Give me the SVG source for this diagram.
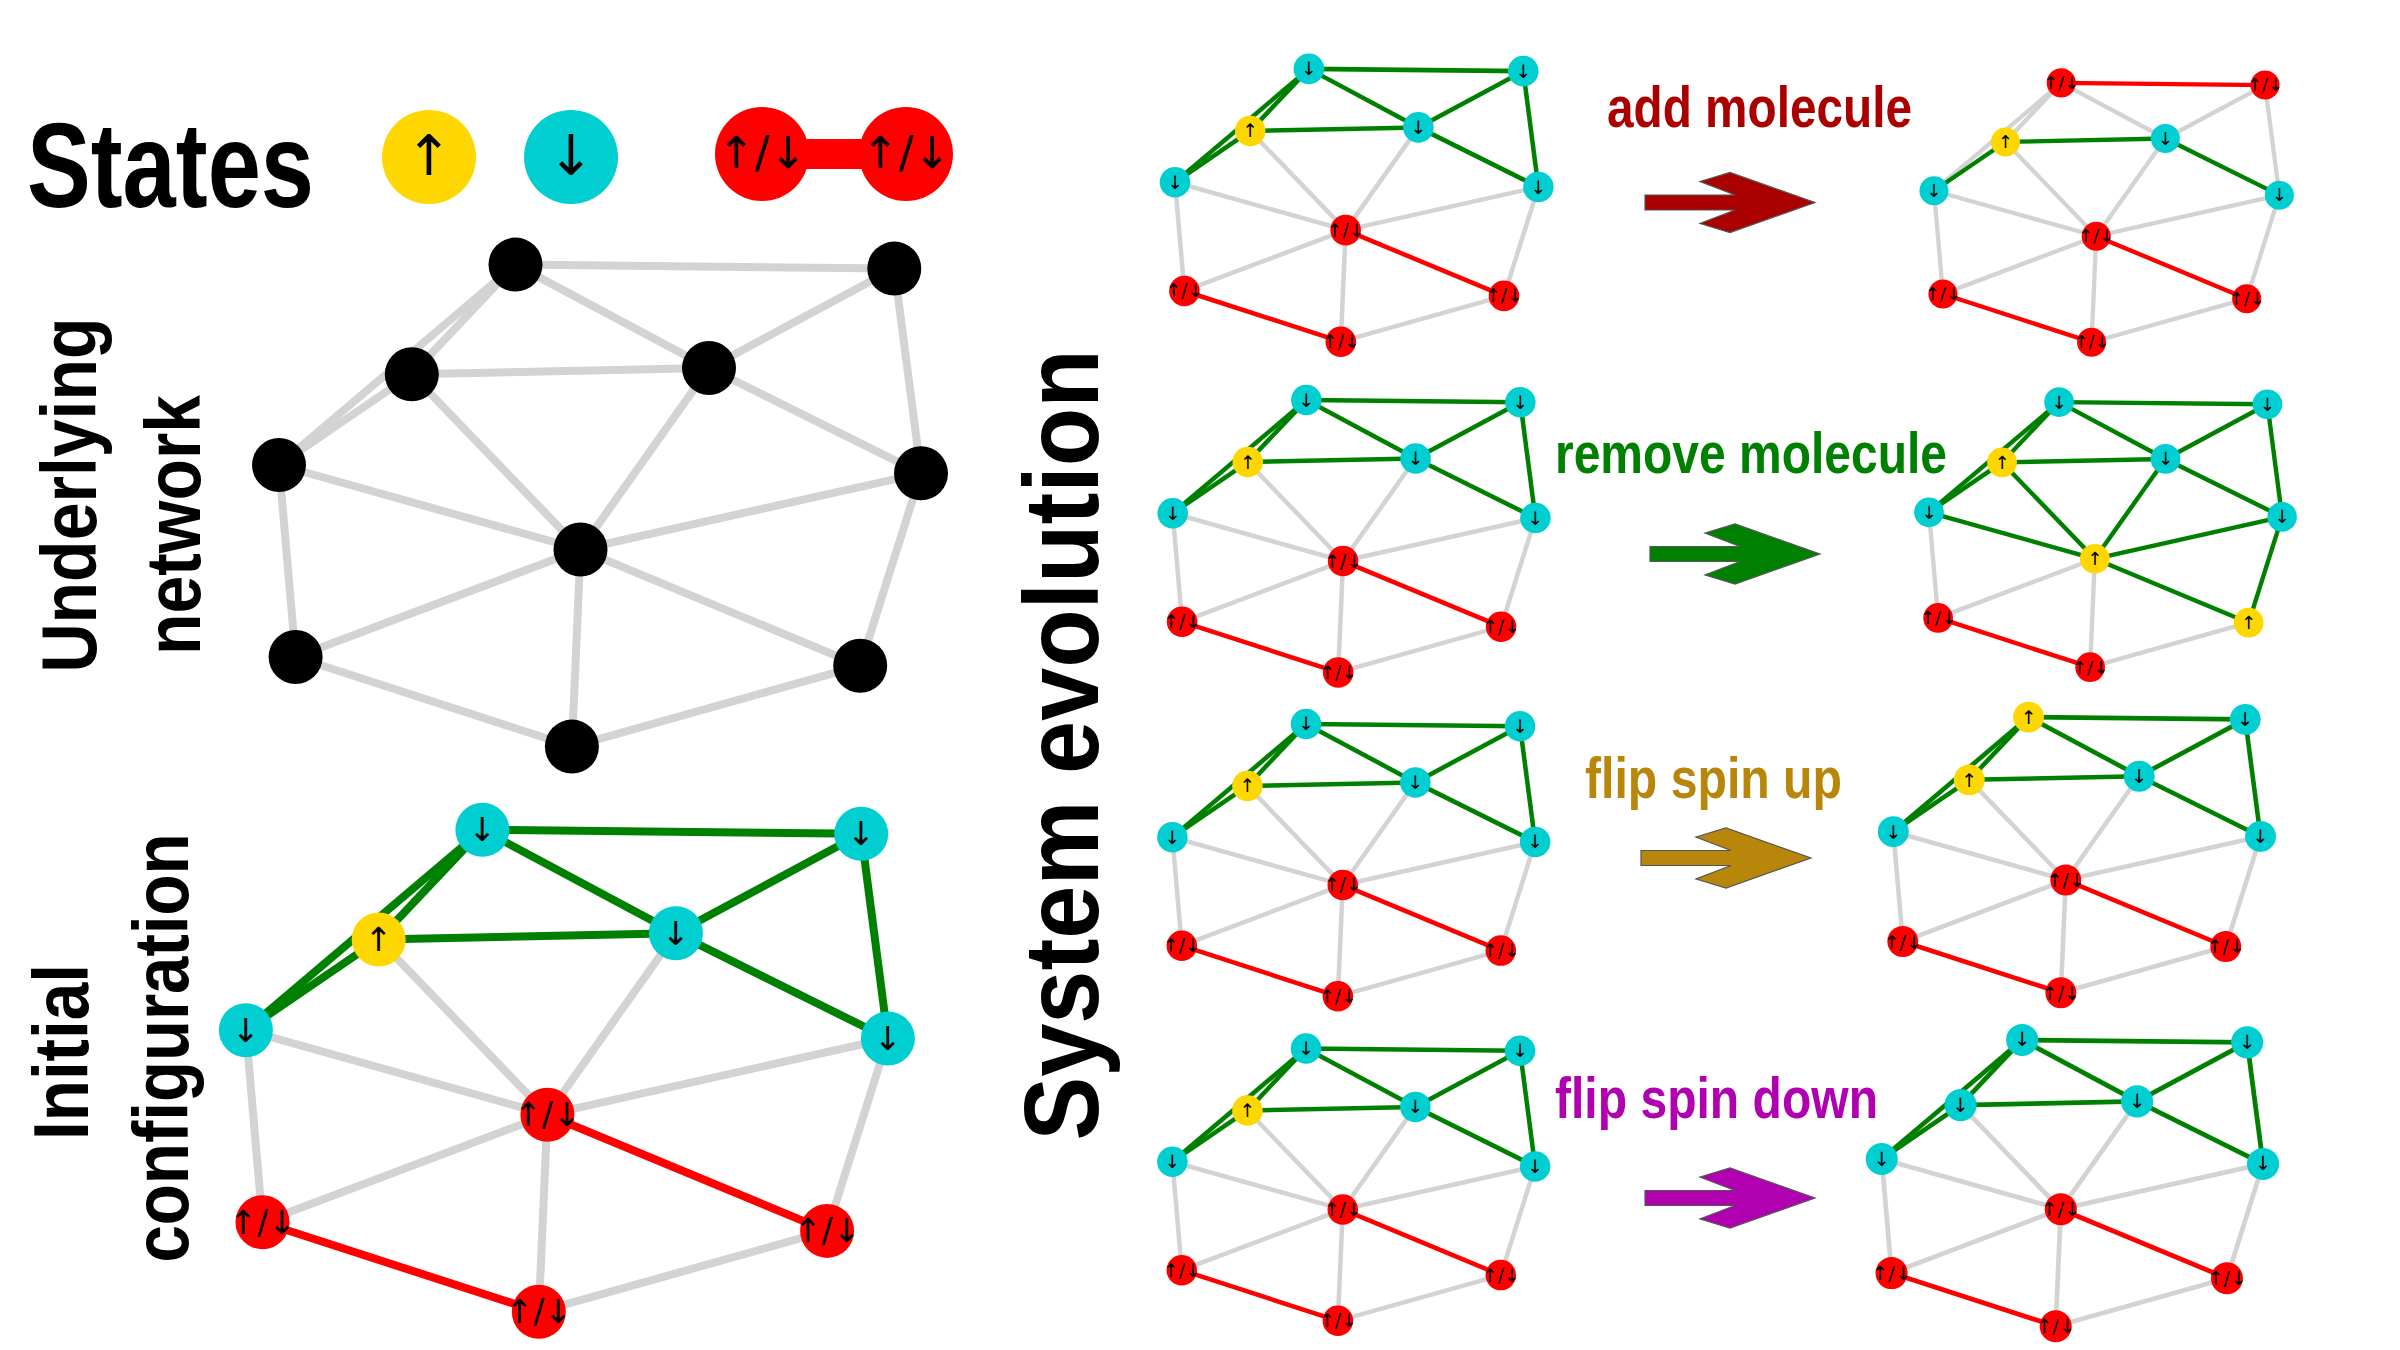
<svg xmlns="http://www.w3.org/2000/svg" width="2400" height="1350" viewBox="0 0 2400 1350">
<style>
.gr{stroke:#d3d3d3;stroke-width:8;fill:none}
.gn{stroke:#008000;stroke-width:8;fill:none}
.rd-e{stroke:#ff0000;stroke-width:8;fill:none}
.cy{fill:#00ced1}
.yl{fill:#ffd700}
.rd{fill:#ff0000}
.bk{fill:#000000}
.t{font-family:"DejaVu Sans",sans-serif;font-size:33px;text-anchor:middle;dominant-baseline:central;fill:#000}
.lab{font-family:"Liberation Sans",Arial,sans-serif;font-weight:bold}
.arr{stroke:#555;stroke-width:1.2}
</style>
<rect width="2400" height="1350" fill="#ffffff"/>

<!-- Legend -->
<g id="legend">
<text class="lab" x="27" y="207" font-size="120" textLength="287" lengthAdjust="spacingAndGlyphs">States</text>
<g id="legend-up"><circle cx="429" cy="157" r="47" class="yl"/><text x="429" y="155" class="t" style="font-size:56px">↑</text></g>
<g id="legend-down"><circle cx="571" cy="157" r="47" class="cy"/><text x="571" y="155" class="t" style="font-size:56px">↓</text></g>
<g id="legend-pair">
<rect x="762" y="139" width="144" height="30" class="rd"/>
<circle cx="762" cy="154" r="47" class="rd"/>
<circle cx="906" cy="154" r="47" class="rd"/>
<text x="762" y="152" class="t" style="font-size:44px">↑/↓</text>
<text x="906" y="152" class="t" style="font-size:44px">↑/↓</text>
</g>
</g>

<!-- Side labels -->
<text class="lab" font-size="78" text-anchor="middle" textLength="355" lengthAdjust="spacingAndGlyphs" transform="translate(96,495) rotate(-90)">Underlying</text>
<text class="lab" font-size="78" text-anchor="middle" textLength="260" lengthAdjust="spacingAndGlyphs" transform="translate(200,525) rotate(-90)">network</text>
<text class="lab" font-size="78" text-anchor="middle" textLength="176" lengthAdjust="spacingAndGlyphs" transform="translate(88,1052) rotate(-90)">Initial</text>
<text class="lab" font-size="78" text-anchor="middle" textLength="429" lengthAdjust="spacingAndGlyphs" transform="translate(188,1048) rotate(-90)">configuration</text>
<text class="lab" font-size="106" text-anchor="middle" textLength="791" lengthAdjust="spacingAndGlyphs" transform="translate(1098,745) rotate(-90)">System evolution</text>

<!-- Action labels and arrows -->
<g id="act-add">
<text class="lab" x="1607" y="127" font-size="58" fill="#aa0000" textLength="305" lengthAdjust="spacingAndGlyphs">add molecule</text>
<path class="arr" fill="#aa0000" d="M1645,195 H1735 L1700,181.5 L1730,172.5 L1815,202.5 L1730,232.5 L1700,223.5 L1735,210 H1645 Z"/>
</g>
<g id="act-remove">
<text class="lab" font-size="48" fill="#008000" transform="translate(1555,473) scale(1,1.2)">remove molecule</text>
<path class="arr" fill="#008000" d="M1650,546.5 H1740 L1705,533 L1735,524 L1820,554 L1735,584 L1705,575 L1740,561.5 H1650 Z"/>
</g>
<g id="act-flipup">
<text class="lab" x="1585" y="798" font-size="58" fill="#b8860b" textLength="257" lengthAdjust="spacingAndGlyphs">flip spin up</text>
<path class="arr" fill="#b8860b" d="M1641,850.5 H1731 L1696,837 L1726,828 L1811,858 L1726,888 L1696,879 L1731,865.5 H1641 Z"/>
</g>
<g id="act-flipdown">
<text class="lab" x="1555" y="1118" font-size="58" fill="#b000b0" textLength="323" lengthAdjust="spacingAndGlyphs">flip spin down</text>
<path class="arr" fill="#b000b0" d="M1645,1190.5 H1735 L1700,1177 L1730,1168 L1815,1198 L1730,1228 L1700,1219 L1735,1205.5 H1645 Z"/>
</g>

<!-- Underlying network -->
<g id="underlying" transform="translate(279,465)">
<g id="underlying-connectors">
<line class="gr" x1="236.5" y1="-200.4" x2="615.3" y2="-196.4"/>
<line class="gr" x1="236.5" y1="-200.4" x2="430" y2="-97"/>
<line class="gr" x1="236.5" y1="-200.4" x2="132.8" y2="-90.7"/>
<line class="gr" x1="236.5" y1="-200.4" x2="0" y2="0"/>
<line class="gr" x1="132.8" y1="-90.7" x2="0" y2="0"/>
<line class="gr" x1="132.8" y1="-90.7" x2="430" y2="-97"/>
<line class="gr" x1="615.3" y1="-196.4" x2="430" y2="-97"/>
<line class="gr" x1="430" y1="-97" x2="642" y2="8.3"/>
<line class="gr" x1="615.3" y1="-196.4" x2="642" y2="8.3"/>
<line class="gr" x1="132.8" y1="-90.7" x2="301.5" y2="84.5"/>
<line class="gr" x1="430" y1="-97" x2="301.5" y2="84.5"/>
<line class="gr" x1="0" y1="0" x2="301.5" y2="84.5"/>
<line class="gr" x1="642" y1="8.3" x2="301.5" y2="84.5"/>
<line class="gr" x1="0" y1="0" x2="16.6" y2="192"/>
<line class="gr" x1="642" y1="8.3" x2="581.2" y2="200.7"/>
<line class="gr" x1="301.5" y1="84.5" x2="16.6" y2="192"/>
<line class="gr" x1="301.5" y1="84.5" x2="292.9" y2="281.6"/>
<line class="gr" x1="301.5" y1="84.5" x2="581.2" y2="200.7"/>
<line class="gr" x1="16.6" y1="192" x2="292.9" y2="281.6"/>
<line class="gr" x1="581.2" y1="200.7" x2="292.9" y2="281.6"/>
</g>
<g id="u-A"><circle class="bk" cx="236.5" cy="-200.4" r="27"/></g>
<g id="u-B"><circle class="bk" cx="615.3" cy="-196.4" r="27"/></g>
<g id="u-C"><circle class="bk" cx="132.8" cy="-90.7" r="27"/></g>
<g id="u-D"><circle class="bk" cx="430" cy="-97" r="27"/></g>
<g id="u-E"><circle class="bk" cx="0" cy="0" r="27"/></g>
<g id="u-F"><circle class="bk" cx="642" cy="8.3" r="27"/></g>
<g id="u-G"><circle class="bk" cx="301.5" cy="84.5" r="27"/></g>
<g id="u-H"><circle class="bk" cx="16.6" cy="192" r="27"/></g>
<g id="u-I"><circle class="bk" cx="581.2" cy="200.7" r="27"/></g>
<g id="u-J"><circle class="bk" cx="292.9" cy="281.6" r="27"/></g>
</g>

<!-- Initial configuration -->
<g id="init" transform="translate(245.9,1030.2)">
<g id="init-connectors">
<line class="gn" x1="236.5" y1="-200.4" x2="615.3" y2="-196.4"/>
<line class="gn" x1="236.5" y1="-200.4" x2="430" y2="-97"/>
<line class="gn" x1="236.5" y1="-200.4" x2="132.8" y2="-90.7"/>
<line class="gn" x1="236.5" y1="-200.4" x2="0" y2="0"/>
<line class="gn" x1="132.8" y1="-90.7" x2="0" y2="0"/>
<line class="gn" x1="132.8" y1="-90.7" x2="430" y2="-97"/>
<line class="gn" x1="615.3" y1="-196.4" x2="430" y2="-97"/>
<line class="gn" x1="430" y1="-97" x2="642" y2="8.3"/>
<line class="gn" x1="615.3" y1="-196.4" x2="642" y2="8.3"/>
<line class="gr" x1="132.8" y1="-90.7" x2="301.5" y2="84.5"/>
<line class="gr" x1="430" y1="-97" x2="301.5" y2="84.5"/>
<line class="gr" x1="0" y1="0" x2="301.5" y2="84.5"/>
<line class="gr" x1="642" y1="8.3" x2="301.5" y2="84.5"/>
<line class="gr" x1="0" y1="0" x2="16.6" y2="192"/>
<line class="gr" x1="642" y1="8.3" x2="581.2" y2="200.7"/>
<line class="gr" x1="301.5" y1="84.5" x2="16.6" y2="192"/>
<line class="gr" x1="301.5" y1="84.5" x2="292.9" y2="281.6"/>
<line class="rd-e" x1="301.5" y1="84.5" x2="581.2" y2="200.7"/>
<line class="rd-e" x1="16.6" y1="192" x2="292.9" y2="281.6"/>
<line class="gr" x1="581.2" y1="200.7" x2="292.9" y2="281.6"/>
</g>
<g id="i-A"><circle class="cy" cx="236.5" cy="-200.4" r="27"/><text class="t" x="236.5" y="-200.4">↓</text></g>
<g id="i-B"><circle class="cy" cx="615.3" cy="-196.4" r="27"/><text class="t" x="615.3" y="-196.4">↓</text></g>
<g id="i-C"><circle class="yl" cx="132.8" cy="-90.7" r="27"/><text class="t" x="132.8" y="-90.7">↑</text></g>
<g id="i-D"><circle class="cy" cx="430" cy="-97" r="27"/><text class="t" x="430" y="-97">↓</text></g>
<g id="i-E"><circle class="cy" cx="0" cy="0" r="27"/><text class="t" x="0" y="0">↓</text></g>
<g id="i-F"><circle class="cy" cx="642" cy="8.3" r="27"/><text class="t" x="642" y="8.3">↓</text></g>
<g id="i-G"><circle class="rd" cx="301.5" cy="84.5" r="27"/><text class="t" x="301.5" y="84.5">↑/↓</text></g>
<g id="i-H"><circle class="rd" cx="16.6" cy="192" r="27"/><text class="t" x="16.6" y="192">↑/↓</text></g>
<g id="i-I"><circle class="rd" cx="581.2" cy="200.7" r="27"/><text class="t" x="581.2" y="200.7">↑/↓</text></g>
<g id="i-J"><circle class="rd" cx="292.9" cy="281.6" r="27"/><text class="t" x="292.9" y="281.6">↑/↓</text></g>
</g>

<!-- Row 1 left -->
<g id="r1L" transform="translate(1175,182.3) scale(0.566)">
<g id="r1L-connectors">
<line class="gn" x1="236.5" y1="-200.4" x2="615.3" y2="-196.4"/>
<line class="gn" x1="236.5" y1="-200.4" x2="430" y2="-97"/>
<line class="gn" x1="236.5" y1="-200.4" x2="132.8" y2="-90.7"/>
<line class="gn" x1="236.5" y1="-200.4" x2="0" y2="0"/>
<line class="gn" x1="132.8" y1="-90.7" x2="0" y2="0"/>
<line class="gn" x1="132.8" y1="-90.7" x2="430" y2="-97"/>
<line class="gn" x1="615.3" y1="-196.4" x2="430" y2="-97"/>
<line class="gn" x1="430" y1="-97" x2="642" y2="8.3"/>
<line class="gn" x1="615.3" y1="-196.4" x2="642" y2="8.3"/>
<line class="gr" x1="132.8" y1="-90.7" x2="301.5" y2="84.5"/>
<line class="gr" x1="430" y1="-97" x2="301.5" y2="84.5"/>
<line class="gr" x1="0" y1="0" x2="301.5" y2="84.5"/>
<line class="gr" x1="642" y1="8.3" x2="301.5" y2="84.5"/>
<line class="gr" x1="0" y1="0" x2="16.6" y2="192"/>
<line class="gr" x1="642" y1="8.3" x2="581.2" y2="200.7"/>
<line class="gr" x1="301.5" y1="84.5" x2="16.6" y2="192"/>
<line class="gr" x1="301.5" y1="84.5" x2="292.9" y2="281.6"/>
<line class="rd-e" x1="301.5" y1="84.5" x2="581.2" y2="200.7"/>
<line class="rd-e" x1="16.6" y1="192" x2="292.9" y2="281.6"/>
<line class="gr" x1="581.2" y1="200.7" x2="292.9" y2="281.6"/>
</g>
<g id="r1L-A"><circle class="cy" cx="236.5" cy="-200.4" r="27"/><text class="t" x="236.5" y="-200.4">↓</text></g>
<g id="r1L-B"><circle class="cy" cx="615.3" cy="-196.4" r="27"/><text class="t" x="615.3" y="-196.4">↓</text></g>
<g id="r1L-C"><circle class="yl" cx="132.8" cy="-90.7" r="27"/><text class="t" x="132.8" y="-90.7">↑</text></g>
<g id="r1L-D"><circle class="cy" cx="430" cy="-97" r="27"/><text class="t" x="430" y="-97">↓</text></g>
<g id="r1L-E"><circle class="cy" cx="0" cy="0" r="27"/><text class="t" x="0" y="0">↓</text></g>
<g id="r1L-F"><circle class="cy" cx="642" cy="8.3" r="27"/><text class="t" x="642" y="8.3">↓</text></g>
<g id="r1L-G"><circle class="rd" cx="301.5" cy="84.5" r="27"/><text class="t" x="301.5" y="84.5">↑/↓</text></g>
<g id="r1L-H"><circle class="rd" cx="16.6" cy="192" r="27"/><text class="t" x="16.6" y="192">↑/↓</text></g>
<g id="r1L-I"><circle class="rd" cx="581.2" cy="200.7" r="27"/><text class="t" x="581.2" y="200.7">↑/↓</text></g>
<g id="r1L-J"><circle class="rd" cx="292.9" cy="281.6" r="27"/><text class="t" x="292.9" y="281.6">↑/↓</text></g>
</g>

<!-- Row 1 right: add molecule -->
<g id="r1R" transform="translate(1934,190.7) scale(0.538)">
<g id="r1R-connectors">
<line class="rd-e" x1="236.5" y1="-200.4" x2="615.3" y2="-196.4"/>
<line class="gr" x1="236.5" y1="-200.4" x2="430" y2="-97"/>
<line class="gr" x1="236.5" y1="-200.4" x2="132.8" y2="-90.7"/>
<line class="gr" x1="236.5" y1="-200.4" x2="0" y2="0"/>
<line class="gn" x1="132.8" y1="-90.7" x2="0" y2="0"/>
<line class="gn" x1="132.8" y1="-90.7" x2="430" y2="-97"/>
<line class="gr" x1="615.3" y1="-196.4" x2="430" y2="-97"/>
<line class="gn" x1="430" y1="-97" x2="642" y2="8.3"/>
<line class="gr" x1="615.3" y1="-196.4" x2="642" y2="8.3"/>
<line class="gr" x1="132.8" y1="-90.7" x2="301.5" y2="84.5"/>
<line class="gr" x1="430" y1="-97" x2="301.5" y2="84.5"/>
<line class="gr" x1="0" y1="0" x2="301.5" y2="84.5"/>
<line class="gr" x1="642" y1="8.3" x2="301.5" y2="84.5"/>
<line class="gr" x1="0" y1="0" x2="16.6" y2="192"/>
<line class="gr" x1="642" y1="8.3" x2="581.2" y2="200.7"/>
<line class="gr" x1="301.5" y1="84.5" x2="16.6" y2="192"/>
<line class="gr" x1="301.5" y1="84.5" x2="292.9" y2="281.6"/>
<line class="rd-e" x1="301.5" y1="84.5" x2="581.2" y2="200.7"/>
<line class="rd-e" x1="16.6" y1="192" x2="292.9" y2="281.6"/>
<line class="gr" x1="581.2" y1="200.7" x2="292.9" y2="281.6"/>
</g>
<g id="r1R-A"><circle class="rd" cx="236.5" cy="-200.4" r="27"/><text class="t" x="236.5" y="-200.4">↑/↓</text></g>
<g id="r1R-B"><circle class="rd" cx="615.3" cy="-196.4" r="27"/><text class="t" x="615.3" y="-196.4">↑/↓</text></g>
<g id="r1R-C"><circle class="yl" cx="132.8" cy="-90.7" r="27"/><text class="t" x="132.8" y="-90.7">↑</text></g>
<g id="r1R-D"><circle class="cy" cx="430" cy="-97" r="27"/><text class="t" x="430" y="-97">↓</text></g>
<g id="r1R-E"><circle class="cy" cx="0" cy="0" r="27"/><text class="t" x="0" y="0">↓</text></g>
<g id="r1R-F"><circle class="cy" cx="642" cy="8.3" r="27"/><text class="t" x="642" y="8.3">↓</text></g>
<g id="r1R-G"><circle class="rd" cx="301.5" cy="84.5" r="27"/><text class="t" x="301.5" y="84.5">↑/↓</text></g>
<g id="r1R-H"><circle class="rd" cx="16.6" cy="192" r="27"/><text class="t" x="16.6" y="192">↑/↓</text></g>
<g id="r1R-I"><circle class="rd" cx="581.2" cy="200.7" r="27"/><text class="t" x="581.2" y="200.7">↑/↓</text></g>
<g id="r1R-J"><circle class="rd" cx="292.9" cy="281.6" r="27"/><text class="t" x="292.9" y="281.6">↑/↓</text></g>
</g>

<!-- Row 2 left -->
<g id="r2L" transform="translate(1172.7,513.3) scale(0.565)">
<g id="r2L-connectors">
<line class="gn" x1="236.5" y1="-200.4" x2="615.3" y2="-196.4"/>
<line class="gn" x1="236.5" y1="-200.4" x2="430" y2="-97"/>
<line class="gn" x1="236.5" y1="-200.4" x2="132.8" y2="-90.7"/>
<line class="gn" x1="236.5" y1="-200.4" x2="0" y2="0"/>
<line class="gn" x1="132.8" y1="-90.7" x2="0" y2="0"/>
<line class="gn" x1="132.8" y1="-90.7" x2="430" y2="-97"/>
<line class="gn" x1="615.3" y1="-196.4" x2="430" y2="-97"/>
<line class="gn" x1="430" y1="-97" x2="642" y2="8.3"/>
<line class="gn" x1="615.3" y1="-196.4" x2="642" y2="8.3"/>
<line class="gr" x1="132.8" y1="-90.7" x2="301.5" y2="84.5"/>
<line class="gr" x1="430" y1="-97" x2="301.5" y2="84.5"/>
<line class="gr" x1="0" y1="0" x2="301.5" y2="84.5"/>
<line class="gr" x1="642" y1="8.3" x2="301.5" y2="84.5"/>
<line class="gr" x1="0" y1="0" x2="16.6" y2="192"/>
<line class="gr" x1="642" y1="8.3" x2="581.2" y2="200.7"/>
<line class="gr" x1="301.5" y1="84.5" x2="16.6" y2="192"/>
<line class="gr" x1="301.5" y1="84.5" x2="292.9" y2="281.6"/>
<line class="rd-e" x1="301.5" y1="84.5" x2="581.2" y2="200.7"/>
<line class="rd-e" x1="16.6" y1="192" x2="292.9" y2="281.6"/>
<line class="gr" x1="581.2" y1="200.7" x2="292.9" y2="281.6"/>
</g>
<g id="r2L-A"><circle class="cy" cx="236.5" cy="-200.4" r="27"/><text class="t" x="236.5" y="-200.4">↓</text></g>
<g id="r2L-B"><circle class="cy" cx="615.3" cy="-196.4" r="27"/><text class="t" x="615.3" y="-196.4">↓</text></g>
<g id="r2L-C"><circle class="yl" cx="132.8" cy="-90.7" r="27"/><text class="t" x="132.8" y="-90.7">↑</text></g>
<g id="r2L-D"><circle class="cy" cx="430" cy="-97" r="27"/><text class="t" x="430" y="-97">↓</text></g>
<g id="r2L-E"><circle class="cy" cx="0" cy="0" r="27"/><text class="t" x="0" y="0">↓</text></g>
<g id="r2L-F"><circle class="cy" cx="642" cy="8.3" r="27"/><text class="t" x="642" y="8.3">↓</text></g>
<g id="r2L-G"><circle class="rd" cx="301.5" cy="84.5" r="27"/><text class="t" x="301.5" y="84.5">↑/↓</text></g>
<g id="r2L-H"><circle class="rd" cx="16.6" cy="192" r="27"/><text class="t" x="16.6" y="192">↑/↓</text></g>
<g id="r2L-I"><circle class="rd" cx="581.2" cy="200.7" r="27"/><text class="t" x="581.2" y="200.7">↑/↓</text></g>
<g id="r2L-J"><circle class="rd" cx="292.9" cy="281.6" r="27"/><text class="t" x="292.9" y="281.6">↑/↓</text></g>
</g>

<!-- Row 2 right: remove molecule -->
<g id="r2R" transform="translate(1929,512.3) scale(0.55)">
<g id="r2R-connectors">
<line class="gn" x1="236.5" y1="-200.4" x2="615.3" y2="-196.4"/>
<line class="gn" x1="236.5" y1="-200.4" x2="430" y2="-97"/>
<line class="gn" x1="236.5" y1="-200.4" x2="132.8" y2="-90.7"/>
<line class="gn" x1="236.5" y1="-200.4" x2="0" y2="0"/>
<line class="gn" x1="132.8" y1="-90.7" x2="0" y2="0"/>
<line class="gn" x1="132.8" y1="-90.7" x2="430" y2="-97"/>
<line class="gn" x1="615.3" y1="-196.4" x2="430" y2="-97"/>
<line class="gn" x1="430" y1="-97" x2="642" y2="8.3"/>
<line class="gn" x1="615.3" y1="-196.4" x2="642" y2="8.3"/>
<line class="gn" x1="132.8" y1="-90.7" x2="301.5" y2="84.5"/>
<line class="gn" x1="430" y1="-97" x2="301.5" y2="84.5"/>
<line class="gn" x1="0" y1="0" x2="301.5" y2="84.5"/>
<line class="gn" x1="642" y1="8.3" x2="301.5" y2="84.5"/>
<line class="gr" x1="0" y1="0" x2="16.6" y2="192"/>
<line class="gn" x1="642" y1="8.3" x2="581.2" y2="200.7"/>
<line class="gr" x1="301.5" y1="84.5" x2="16.6" y2="192"/>
<line class="gr" x1="301.5" y1="84.5" x2="292.9" y2="281.6"/>
<line class="gn" x1="301.5" y1="84.5" x2="581.2" y2="200.7"/>
<line class="rd-e" x1="16.6" y1="192" x2="292.9" y2="281.6"/>
<line class="gr" x1="581.2" y1="200.7" x2="292.9" y2="281.6"/>
</g>
<g id="r2R-A"><circle class="cy" cx="236.5" cy="-200.4" r="27"/><text class="t" x="236.5" y="-200.4">↓</text></g>
<g id="r2R-B"><circle class="cy" cx="615.3" cy="-196.4" r="27"/><text class="t" x="615.3" y="-196.4">↓</text></g>
<g id="r2R-C"><circle class="yl" cx="132.8" cy="-90.7" r="27"/><text class="t" x="132.8" y="-90.7">↑</text></g>
<g id="r2R-D"><circle class="cy" cx="430" cy="-97" r="27"/><text class="t" x="430" y="-97">↓</text></g>
<g id="r2R-E"><circle class="cy" cx="0" cy="0" r="27"/><text class="t" x="0" y="0">↓</text></g>
<g id="r2R-F"><circle class="cy" cx="642" cy="8.3" r="27"/><text class="t" x="642" y="8.3">↓</text></g>
<g id="r2R-G"><circle class="yl" cx="301.5" cy="84.5" r="27"/><text class="t" x="301.5" y="84.5">↑</text></g>
<g id="r2R-H"><circle class="rd" cx="16.6" cy="192" r="27"/><text class="t" x="16.6" y="192">↑/↓</text></g>
<g id="r2R-I"><circle class="yl" cx="581.2" cy="200.7" r="27"/><text class="t" x="581.2" y="200.7">↑</text></g>
<g id="r2R-J"><circle class="rd" cx="292.9" cy="281.6" r="27"/><text class="t" x="292.9" y="281.6">↑/↓</text></g>
</g>

<!-- Row 3 left -->
<g id="r3L" transform="translate(1172.4,837.2) scale(0.565)">
<g id="r3L-connectors">
<line class="gn" x1="236.5" y1="-200.4" x2="615.3" y2="-196.4"/>
<line class="gn" x1="236.5" y1="-200.4" x2="430" y2="-97"/>
<line class="gn" x1="236.5" y1="-200.4" x2="132.8" y2="-90.7"/>
<line class="gn" x1="236.5" y1="-200.4" x2="0" y2="0"/>
<line class="gn" x1="132.8" y1="-90.7" x2="0" y2="0"/>
<line class="gn" x1="132.8" y1="-90.7" x2="430" y2="-97"/>
<line class="gn" x1="615.3" y1="-196.4" x2="430" y2="-97"/>
<line class="gn" x1="430" y1="-97" x2="642" y2="8.3"/>
<line class="gn" x1="615.3" y1="-196.4" x2="642" y2="8.3"/>
<line class="gr" x1="132.8" y1="-90.7" x2="301.5" y2="84.5"/>
<line class="gr" x1="430" y1="-97" x2="301.5" y2="84.5"/>
<line class="gr" x1="0" y1="0" x2="301.5" y2="84.5"/>
<line class="gr" x1="642" y1="8.3" x2="301.5" y2="84.5"/>
<line class="gr" x1="0" y1="0" x2="16.6" y2="192"/>
<line class="gr" x1="642" y1="8.3" x2="581.2" y2="200.7"/>
<line class="gr" x1="301.5" y1="84.5" x2="16.6" y2="192"/>
<line class="gr" x1="301.5" y1="84.5" x2="292.9" y2="281.6"/>
<line class="rd-e" x1="301.5" y1="84.5" x2="581.2" y2="200.7"/>
<line class="rd-e" x1="16.6" y1="192" x2="292.9" y2="281.6"/>
<line class="gr" x1="581.2" y1="200.7" x2="292.9" y2="281.6"/>
</g>
<g id="r3L-A"><circle class="cy" cx="236.5" cy="-200.4" r="27"/><text class="t" x="236.5" y="-200.4">↓</text></g>
<g id="r3L-B"><circle class="cy" cx="615.3" cy="-196.4" r="27"/><text class="t" x="615.3" y="-196.4">↓</text></g>
<g id="r3L-C"><circle class="yl" cx="132.8" cy="-90.7" r="27"/><text class="t" x="132.8" y="-90.7">↑</text></g>
<g id="r3L-D"><circle class="cy" cx="430" cy="-97" r="27"/><text class="t" x="430" y="-97">↓</text></g>
<g id="r3L-E"><circle class="cy" cx="0" cy="0" r="27"/><text class="t" x="0" y="0">↓</text></g>
<g id="r3L-F"><circle class="cy" cx="642" cy="8.3" r="27"/><text class="t" x="642" y="8.3">↓</text></g>
<g id="r3L-G"><circle class="rd" cx="301.5" cy="84.5" r="27"/><text class="t" x="301.5" y="84.5">↑/↓</text></g>
<g id="r3L-H"><circle class="rd" cx="16.6" cy="192" r="27"/><text class="t" x="16.6" y="192">↑/↓</text></g>
<g id="r3L-I"><circle class="rd" cx="581.2" cy="200.7" r="27"/><text class="t" x="581.2" y="200.7">↑/↓</text></g>
<g id="r3L-J"><circle class="rd" cx="292.9" cy="281.6" r="27"/><text class="t" x="292.9" y="281.6">↑/↓</text></g>
</g>

<!-- Row 3 right: flip spin up -->
<g id="r3R" transform="translate(1893.3,831.7) scale(0.572)">
<g id="r3R-connectors">
<line class="gn" x1="236.5" y1="-200.4" x2="615.3" y2="-196.4"/>
<line class="gn" x1="236.5" y1="-200.4" x2="430" y2="-97"/>
<line class="gn" x1="236.5" y1="-200.4" x2="132.8" y2="-90.7"/>
<line class="gn" x1="236.5" y1="-200.4" x2="0" y2="0"/>
<line class="gn" x1="132.8" y1="-90.7" x2="0" y2="0"/>
<line class="gn" x1="132.8" y1="-90.7" x2="430" y2="-97"/>
<line class="gn" x1="615.3" y1="-196.4" x2="430" y2="-97"/>
<line class="gn" x1="430" y1="-97" x2="642" y2="8.3"/>
<line class="gn" x1="615.3" y1="-196.4" x2="642" y2="8.3"/>
<line class="gr" x1="132.8" y1="-90.7" x2="301.5" y2="84.5"/>
<line class="gr" x1="430" y1="-97" x2="301.5" y2="84.5"/>
<line class="gr" x1="0" y1="0" x2="301.5" y2="84.5"/>
<line class="gr" x1="642" y1="8.3" x2="301.5" y2="84.5"/>
<line class="gr" x1="0" y1="0" x2="16.6" y2="192"/>
<line class="gr" x1="642" y1="8.3" x2="581.2" y2="200.7"/>
<line class="gr" x1="301.5" y1="84.5" x2="16.6" y2="192"/>
<line class="gr" x1="301.5" y1="84.5" x2="292.9" y2="281.6"/>
<line class="rd-e" x1="301.5" y1="84.5" x2="581.2" y2="200.7"/>
<line class="rd-e" x1="16.6" y1="192" x2="292.9" y2="281.6"/>
<line class="gr" x1="581.2" y1="200.7" x2="292.9" y2="281.6"/>
</g>
<g id="r3R-A"><circle class="yl" cx="236.5" cy="-200.4" r="27"/><text class="t" x="236.5" y="-200.4">↑</text></g>
<g id="r3R-B"><circle class="cy" cx="615.3" cy="-196.4" r="27"/><text class="t" x="615.3" y="-196.4">↓</text></g>
<g id="r3R-C"><circle class="yl" cx="132.8" cy="-90.7" r="27"/><text class="t" x="132.8" y="-90.7">↑</text></g>
<g id="r3R-D"><circle class="cy" cx="430" cy="-97" r="27"/><text class="t" x="430" y="-97">↓</text></g>
<g id="r3R-E"><circle class="cy" cx="0" cy="0" r="27"/><text class="t" x="0" y="0">↓</text></g>
<g id="r3R-F"><circle class="cy" cx="642" cy="8.3" r="27"/><text class="t" x="642" y="8.3">↓</text></g>
<g id="r3R-G"><circle class="rd" cx="301.5" cy="84.5" r="27"/><text class="t" x="301.5" y="84.5">↑/↓</text></g>
<g id="r3R-H"><circle class="rd" cx="16.6" cy="192" r="27"/><text class="t" x="16.6" y="192">↑/↓</text></g>
<g id="r3R-I"><circle class="rd" cx="581.2" cy="200.7" r="27"/><text class="t" x="581.2" y="200.7">↑/↓</text></g>
<g id="r3R-J"><circle class="rd" cx="292.9" cy="281.6" r="27"/><text class="t" x="292.9" y="281.6">↑/↓</text></g>
</g>

<!-- Row 4 left -->
<g id="r4L" transform="translate(1172.4,1161.7) scale(0.565)">
<g id="r4L-connectors">
<line class="gn" x1="236.5" y1="-200.4" x2="615.3" y2="-196.4"/>
<line class="gn" x1="236.5" y1="-200.4" x2="430" y2="-97"/>
<line class="gn" x1="236.5" y1="-200.4" x2="132.8" y2="-90.7"/>
<line class="gn" x1="236.5" y1="-200.4" x2="0" y2="0"/>
<line class="gn" x1="132.8" y1="-90.7" x2="0" y2="0"/>
<line class="gn" x1="132.8" y1="-90.7" x2="430" y2="-97"/>
<line class="gn" x1="615.3" y1="-196.4" x2="430" y2="-97"/>
<line class="gn" x1="430" y1="-97" x2="642" y2="8.3"/>
<line class="gn" x1="615.3" y1="-196.4" x2="642" y2="8.3"/>
<line class="gr" x1="132.8" y1="-90.7" x2="301.5" y2="84.5"/>
<line class="gr" x1="430" y1="-97" x2="301.5" y2="84.5"/>
<line class="gr" x1="0" y1="0" x2="301.5" y2="84.5"/>
<line class="gr" x1="642" y1="8.3" x2="301.5" y2="84.5"/>
<line class="gr" x1="0" y1="0" x2="16.6" y2="192"/>
<line class="gr" x1="642" y1="8.3" x2="581.2" y2="200.7"/>
<line class="gr" x1="301.5" y1="84.5" x2="16.6" y2="192"/>
<line class="gr" x1="301.5" y1="84.5" x2="292.9" y2="281.6"/>
<line class="rd-e" x1="301.5" y1="84.5" x2="581.2" y2="200.7"/>
<line class="rd-e" x1="16.6" y1="192" x2="292.9" y2="281.6"/>
<line class="gr" x1="581.2" y1="200.7" x2="292.9" y2="281.6"/>
</g>
<g id="r4L-A"><circle class="cy" cx="236.5" cy="-200.4" r="27"/><text class="t" x="236.5" y="-200.4">↓</text></g>
<g id="r4L-B"><circle class="cy" cx="615.3" cy="-196.4" r="27"/><text class="t" x="615.3" y="-196.4">↓</text></g>
<g id="r4L-C"><circle class="yl" cx="132.8" cy="-90.7" r="27"/><text class="t" x="132.8" y="-90.7">↑</text></g>
<g id="r4L-D"><circle class="cy" cx="430" cy="-97" r="27"/><text class="t" x="430" y="-97">↓</text></g>
<g id="r4L-E"><circle class="cy" cx="0" cy="0" r="27"/><text class="t" x="0" y="0">↓</text></g>
<g id="r4L-F"><circle class="cy" cx="642" cy="8.3" r="27"/><text class="t" x="642" y="8.3">↓</text></g>
<g id="r4L-G"><circle class="rd" cx="301.5" cy="84.5" r="27"/><text class="t" x="301.5" y="84.5">↑/↓</text></g>
<g id="r4L-H"><circle class="rd" cx="16.6" cy="192" r="27"/><text class="t" x="16.6" y="192">↑/↓</text></g>
<g id="r4L-I"><circle class="rd" cx="581.2" cy="200.7" r="27"/><text class="t" x="581.2" y="200.7">↑/↓</text></g>
<g id="r4L-J"><circle class="rd" cx="292.9" cy="281.6" r="27"/><text class="t" x="292.9" y="281.6">↑/↓</text></g>
</g>

<!-- Row 4 right: flip spin down -->
<g id="r4R" transform="translate(1881.7,1159) scale(0.594)">
<g id="r4R-connectors">
<line class="gn" x1="236.5" y1="-200.4" x2="615.3" y2="-196.4"/>
<line class="gn" x1="236.5" y1="-200.4" x2="430" y2="-97"/>
<line class="gn" x1="236.5" y1="-200.4" x2="132.8" y2="-90.7"/>
<line class="gn" x1="236.5" y1="-200.4" x2="0" y2="0"/>
<line class="gn" x1="132.8" y1="-90.7" x2="0" y2="0"/>
<line class="gn" x1="132.8" y1="-90.7" x2="430" y2="-97"/>
<line class="gn" x1="615.3" y1="-196.4" x2="430" y2="-97"/>
<line class="gn" x1="430" y1="-97" x2="642" y2="8.3"/>
<line class="gn" x1="615.3" y1="-196.4" x2="642" y2="8.3"/>
<line class="gr" x1="132.8" y1="-90.7" x2="301.5" y2="84.5"/>
<line class="gr" x1="430" y1="-97" x2="301.5" y2="84.5"/>
<line class="gr" x1="0" y1="0" x2="301.5" y2="84.5"/>
<line class="gr" x1="642" y1="8.3" x2="301.5" y2="84.5"/>
<line class="gr" x1="0" y1="0" x2="16.6" y2="192"/>
<line class="gr" x1="642" y1="8.3" x2="581.2" y2="200.7"/>
<line class="gr" x1="301.5" y1="84.5" x2="16.6" y2="192"/>
<line class="gr" x1="301.5" y1="84.5" x2="292.9" y2="281.6"/>
<line class="rd-e" x1="301.5" y1="84.5" x2="581.2" y2="200.7"/>
<line class="rd-e" x1="16.6" y1="192" x2="292.9" y2="281.6"/>
<line class="gr" x1="581.2" y1="200.7" x2="292.9" y2="281.6"/>
</g>
<g id="r4R-A"><circle class="cy" cx="236.5" cy="-200.4" r="27"/><text class="t" x="236.5" y="-200.4">↓</text></g>
<g id="r4R-B"><circle class="cy" cx="615.3" cy="-196.4" r="27"/><text class="t" x="615.3" y="-196.4">↓</text></g>
<g id="r4R-C"><circle class="cy" cx="132.8" cy="-90.7" r="27"/><text class="t" x="132.8" y="-90.7">↓</text></g>
<g id="r4R-D"><circle class="cy" cx="430" cy="-97" r="27"/><text class="t" x="430" y="-97">↓</text></g>
<g id="r4R-E"><circle class="cy" cx="0" cy="0" r="27"/><text class="t" x="0" y="0">↓</text></g>
<g id="r4R-F"><circle class="cy" cx="642" cy="8.3" r="27"/><text class="t" x="642" y="8.3">↓</text></g>
<g id="r4R-G"><circle class="rd" cx="301.5" cy="84.5" r="27"/><text class="t" x="301.5" y="84.5">↑/↓</text></g>
<g id="r4R-H"><circle class="rd" cx="16.6" cy="192" r="27"/><text class="t" x="16.6" y="192">↑/↓</text></g>
<g id="r4R-I"><circle class="rd" cx="581.2" cy="200.7" r="27"/><text class="t" x="581.2" y="200.7">↑/↓</text></g>
<g id="r4R-J"><circle class="rd" cx="292.9" cy="281.6" r="27"/><text class="t" x="292.9" y="281.6">↑/↓</text></g>
</g>
</svg>
